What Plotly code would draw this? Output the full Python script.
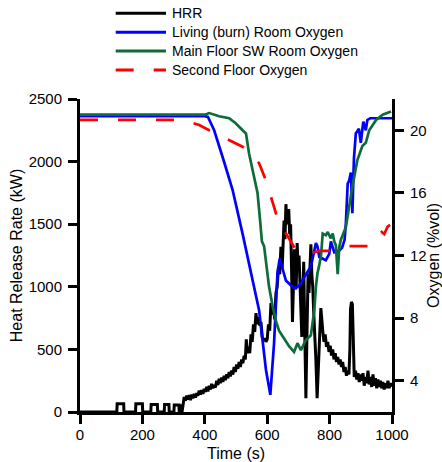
import plotly.graph_objects as go

# ---------------- data ----------------
t_hrr = [0, 100, 118, 119, 140, 141, 178, 179, 200, 201, 227, 228, 248, 249, 270, 271, 285, 286,
         301, 302, 317, 318, 322, 323, 326, 327, 330,
         334, 338, 342, 346, 350, 354, 358, 362, 366, 370, 374, 378, 382, 386, 390, 394, 398, 402,
         406, 410, 414, 418, 422, 426, 430, 434, 438, 442, 446, 450, 454, 458, 462, 466, 470, 474,
         478, 482, 486, 490, 494, 498, 502, 506, 510, 514, 518, 522, 526, 530, 533, 536, 540, 544,
         548, 552, 556, 560, 564, 568, 572, 576, 580, 584, 588, 592, 596, 600, 604, 608, 612, 616,
         620, 624, 628, 632, 636, 640,
         644, 648, 651, 654, 657, 660, 663, 666, 669, 672, 675, 678, 681, 684, 687, 690, 693, 696,
         699, 702, 705, 708, 711, 714, 717, 720, 724, 728, 731, 734, 737, 740, 743, 746, 749, 752,
         756, 760, 764, 768, 772, 775,
         778, 782, 786, 790, 794, 798, 802, 806, 810, 814, 818, 822, 826, 830, 834, 838, 842, 846,
         850, 854, 858, 862, 865, 867, 870, 873, 876, 879, 883, 887, 891, 895, 899, 903, 907, 911,
         915, 919, 923, 927, 931, 935, 939, 943, 947, 951, 955, 959, 963, 967, 971, 975, 979, 983,
         987, 991, 995, 998]
hrr = [0, 0, 0, 65, 65, 0, 0, 65, 65, 0, 0, 60, 60, 0, 0, 60, 60, 0,
       0, 55, 55, 0, 0, 50, 50, 0, 50,
       120, 90, 130, 100, 135, 95, 140, 110, 145, 115, 150, 130, 170, 140, 175, 145, 185, 160,
       200, 165, 210, 180, 225, 190, 215, 195, 250, 215, 265, 230, 275, 240, 290, 255, 300, 270,
       320, 285, 330, 300, 360, 320, 380, 345, 400, 360, 420, 390, 450, 420, 580, 470, 520, 470,
       620, 560, 700, 640, 790, 700, 760, 690, 720, 600, 570, 590, 560, 580, 700, 650, 870, 780,
       820, 740, 950, 1000, 1150, 1100,
       1320, 1150, 1400, 1530, 1380, 1660, 1500, 1560, 1620, 1420, 1500, 1150, 720, 1000, 1300, 1050, 1000, 1350,
       1150, 1250, 1050, 950, 600, 900, 1200, 700, 110, 700, 1100, 950, 1250, 1340, 1100, 1000, 800, 650,
       420, 110, 300, 600, 830, 700,
       650, 560, 620, 520, 560, 480, 530, 450, 500, 420, 470, 400, 440, 380, 420, 360, 400, 320,
       360, 290, 330, 300, 500, 820, 880, 860, 500, 280, 330, 260, 310, 240, 300, 250, 310, 210,
       280, 230, 330, 220, 280, 200, 300, 210, 270, 190, 260, 200, 250, 190, 240, 180, 230, 190,
       250, 190, 230, 200]

t_living = [0, 100, 200, 300, 400, 410, 430, 460, 489, 521, 553, 574, 596, 610, 622, 633, 640,
            649, 660, 681, 692, 703, 724, 740, 751, 756, 761, 767, 788, 799, 804, 815, 830, 840,
            848, 852, 858, 863, 868, 873, 878, 884, 894, 900, 908, 916, 921, 930, 1000]
o2_living = [20.9, 20.9, 20.9, 20.9, 20.9, 20.85, 20.0, 18.1, 16.2, 13.4, 10.4, 8.5, 4.7, 3.1, 6.4, 10.9, 11.8,
             11.1, 10.4, 10.0, 9.9, 10.1, 10.75, 11.3, 12.3, 12.8, 12.6, 11.9, 11.7, 12.1, 12.9, 12.2, 12.3, 12.5,
             13.0, 14.0, 16.6, 16.8, 17.3, 14.7, 18.2, 19.8, 20.1, 19.2, 20.55, 20.0, 20.66, 20.77, 20.77]

t_main = [0, 100, 200, 300, 400, 414, 446, 478, 499, 521, 532, 542, 553, 569, 577, 583, 590, 596,
          606, 617, 628, 638, 654, 670, 686, 697, 708, 724, 740, 751, 756, 761, 767, 772, 778, 788,
          794, 804, 810, 815, 820, 826, 831, 836, 852, 863, 873, 889, 905, 916, 927, 949, 970, 997]
o2_main = [21.0, 21.0, 21.0, 21.0, 21.0, 21.1, 20.9, 20.77, 20.45, 20.0, 19.8, 18.5, 17.5, 16.0, 14.3, 12.9, 12.6, 11.5,
           10.0, 8.8, 7.8, 7.2, 6.7, 6.2, 5.84, 6.4, 5.95, 6.6, 6.9, 8.5, 10.0, 10.85, 11.4, 11.9, 13.4, 13.3,
           13.5, 13.1, 13.4, 12.9, 12.66, 10.8, 12.55, 13.0, 13.8, 15.3, 16.4, 18.1, 19.0, 19.2, 20.0, 20.66, 21.0, 21.2]

t_second = [0, 100, 200, 300, 340, 382, 414, 446, 478, 500, 521, 550, 574, 596, 612, 628, 642, 654,
            670, 686, 700, 720, 735, 767, 800, 831, 863, 905, 930, 950, 959, 967, 975, 980, 986, 994]
o2_second = [20.66, 20.66, 20.66, 20.66, 20.6, 20.34, 20.0, 19.7, 19.4, 19.2, 18.95, 18.5, 17.9, 16.8, 15.75, 14.7, 14.0, 13.6,
             13.0, 12.55, 12.3, 12.1, 12.1, 12.3, 12.3, 12.55, 12.6, 12.6, 12.6, 13.0, 13.3, 13.5, 13.37, 13.6, 13.84, 13.95]

x_ticks = [0, 200, 400, 600, 800, 1000]
y_ticks = [0, 500, 1000, 1500, 2000, 2500]
y2_ticks = [4, 8, 12, 16, 20]

names = ["HRR", "Living (burn) Room Oxygen", "Main Floor SW Room Oxygen", "Second Floor Oxygen"]
colors = ["#000000", "#0000FF", "#0E6B3A", "#FF0000"]
dashes = ["solid", "solid", "solid", "18px,20px"]

FONT = "Liberation Sans, Arial, sans-serif"

fig = go.Figure()
fig.add_trace(go.Scatter(x=t_hrr, y=hrr, mode="lines", name=names[0],
                         line=dict(color=colors[0], width=3), yaxis="y"))
fig.add_trace(go.Scatter(x=t_living, y=o2_living, mode="lines", name=names[1],
                         line=dict(color=colors[1], width=2.7), yaxis="y2"))
fig.add_trace(go.Scatter(x=t_main, y=o2_main, mode="lines", name=names[2],
                         line=dict(color=colors[2], width=2.7), yaxis="y2"))
fig.add_trace(go.Scatter(x=t_second, y=o2_second, mode="lines", name=names[3],
                         line=dict(color=colors[3], width=2.7, dash=dashes[3]), yaxis="y2"))

# custom legend (above the plot area)
L, R, T, B = 80, 50, 99, 50
W, H = 442 - L - R, 462 - T - B
leg_y = [13.3, 32.3, 51.0, 70.0]
for name, col, dsh, py in zip(names, colors, dashes, leg_y):
    yp = (462 - B - py) / H
    fig.add_shape(type="line", xref="paper", yref="paper",
                  x0=(115.7 - L) / W, x1=(166 - L) / W, y0=yp, y1=yp,
                  line=dict(color=col, width=3, dash=dsh))
    fig.add_annotation(xref="paper", yref="paper", x=(170 - L) / W, y=yp,
                       text=name, showarrow=False, xanchor="left", yanchor="middle",
                       font=dict(size=14, color="black", family=FONT))

axis_common = dict(showline=True, linewidth=3, linecolor="black", ticks="outside",
                   ticklen=9, tickwidth=2.5, tickcolor="black", showgrid=False, zeroline=False,
                   automargin=False,
                   tickfont=dict(size=15, color="black", family=FONT))

fig.update_layout(
    width=442, height=462,
    margin=dict(l=L, r=R, t=T, b=B, autoexpand=False),
    paper_bgcolor="white", plot_bgcolor="white",
    showlegend=False,
    font=dict(family=FONT, color="black"),
    xaxis=dict(range=[0, 1000], tickvals=x_ticks, ticklabelstandoff=-2, **axis_common,
               title=dict(text="Time (s)", font=dict(size=16, family=FONT), standoff=10)),
    yaxis=dict(range=[0, 2500], tickvals=y_ticks, ticklabelstandoff=3, **axis_common,
               title=dict(text="Heat Release Rate (kW)", font=dict(size=16, family=FONT), standoff=3)),
    yaxis2=dict(range=[2, 22], tickvals=y2_ticks, overlaying="y", side="right", anchor="x",
                ticklabelstandoff=3, **axis_common,
                title=dict(text="Oxygen (%vol)", font=dict(size=16, family=FONT), standoff=12)),
)

fig.write_html("out.html")
